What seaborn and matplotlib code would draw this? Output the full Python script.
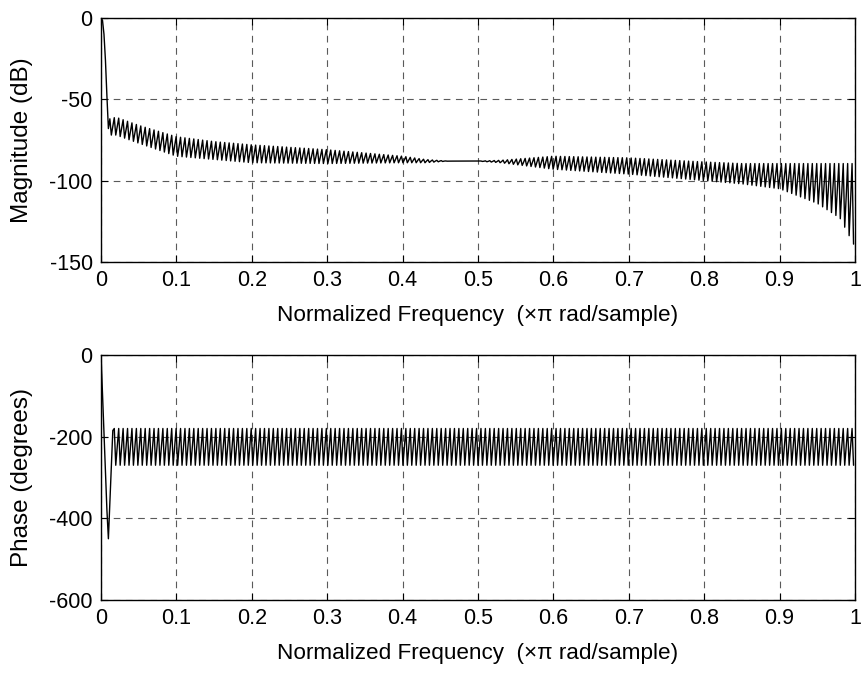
import numpy as np
import pandas as pd
import seaborn as sns
import matplotlib.pyplot as plt

sns.set_style('white')
plt.rcParams['font.family'] = ['Liberation Sans', 'DejaVu Sans']
plt.rcParams['text.color'] = 'black'
plt.rcParams['axes.labelcolor'] = 'black'

n_points = 512

# first samples of the main lobe
mag_head = [0, -1.5, -10, -26, -48, -68]
phase_head = [0, -95, -190, -285, -380, -450, -360, -270, -185]

# stopband ripple envelope (dB)
env_freq = [0.0, 0.012, 0.02, 0.05, 0.1, 0.15, 0.2, 0.3, 0.4, 0.43, 0.46, 0.5,
            0.53, 0.6, 0.7, 0.8, 0.85, 0.9, 0.95, 0.98, 0.998, 1.0]
mag_upper = [-62, -62, -61, -66, -73, -76, -78, -81, -85, -87, -88, -88,
             -87.5, -85, -86, -88.5, -89.5, -89.5, -89.5, -89.5, -89.5, -89.5]
mag_lower = [-72, -72, -72, -77, -85, -87, -89, -89.5, -89, -89, -88, -88,
             -89, -93, -96, -100, -102, -105, -114, -123, -139, -140]

# phase ripple envelope (degrees)
phase_freq = [0.0, 1.0]
phase_upper = [-180, -180]
phase_lower = [-270, -270]

ripple_shape = [1.0, 0.0, 0.5]

xticks = [0, 0.1, 0.2, 0.3, 0.4, 0.5, 0.6, 0.7, 0.8, 0.9, 1]
xticklabels = ['0', '0.1', '0.2', '0.3', '0.4', '0.5', '0.6', '0.7', '0.8', '0.9', '1']
mag_ticks = [0, -50, -100, -150]
phase_ticks = [0, -200, -400, -600]

freq = np.arange(n_points) / n_points


def response(head, f_env, upper, lower):
    hi = np.interp(freq, f_env, upper)
    lo = np.interp(freq, f_env, lower)
    vals = []
    for i in range(n_points):
        if i < len(head):
            vals.append(head[i])
        else:
            w = ripple_shape[i % len(ripple_shape)]
            vals.append(lo[i] + w * (hi[i] - lo[i]))
    return vals


df = pd.DataFrame({'freq': freq,
                   'mag': response(mag_head, env_freq, mag_upper, mag_lower),
                   'phase': response(phase_head, phase_freq, phase_upper, phase_lower)})

fig = plt.figure(figsize=(8.62, 6.75), dpi=100)
ax1 = fig.add_axes([0.1172, 0.6119, 0.8747, 0.3615])
ax2 = fig.add_axes([0.1172, 0.1111, 0.8747, 0.3630])

fs = 15.5
for ax, col, ylab, yt, ylim in [(ax1, 'mag', 'Magnitude (dB)', mag_ticks, (-150, 0)),
                                (ax2, 'phase', 'Phase (degrees)', phase_ticks, (-600, 0))]:
    sns.lineplot(data=df, x='freq', y=col, ax=ax, color='black', linewidth=1.0,
                 estimator=None, sort=False)
    ax.set_xlim(0, 1)
    ax.set_ylim(*ylim)
    ax.set_xticks(xticks)
    ax.set_xticklabels(xticklabels)
    ax.set_yticks(yt)
    ax.set_yticklabels([str(v) for v in yt])
    ax.grid(True, color='#5a5a5a', linestyle=(0, (6, 5)), linewidth=0.8)
    ax.tick_params(direction='in', length=5, width=0.8, top=True, right=True,
                   bottom=True, left=True, labelsize=fs, pad=6, colors='black')
    for s in ax.spines.values():
        s.set_color('black')
        s.set_linewidth(1.0)
    ax.set_xlabel('Normalized Frequency  (\u00d7\u03c0 rad/sample)', fontsize=16.2, labelpad=10)
    ax.set_ylabel(ylab, fontsize=17.5, labelpad=12)

fig.savefig('out.png', dpi=100, facecolor='white')
